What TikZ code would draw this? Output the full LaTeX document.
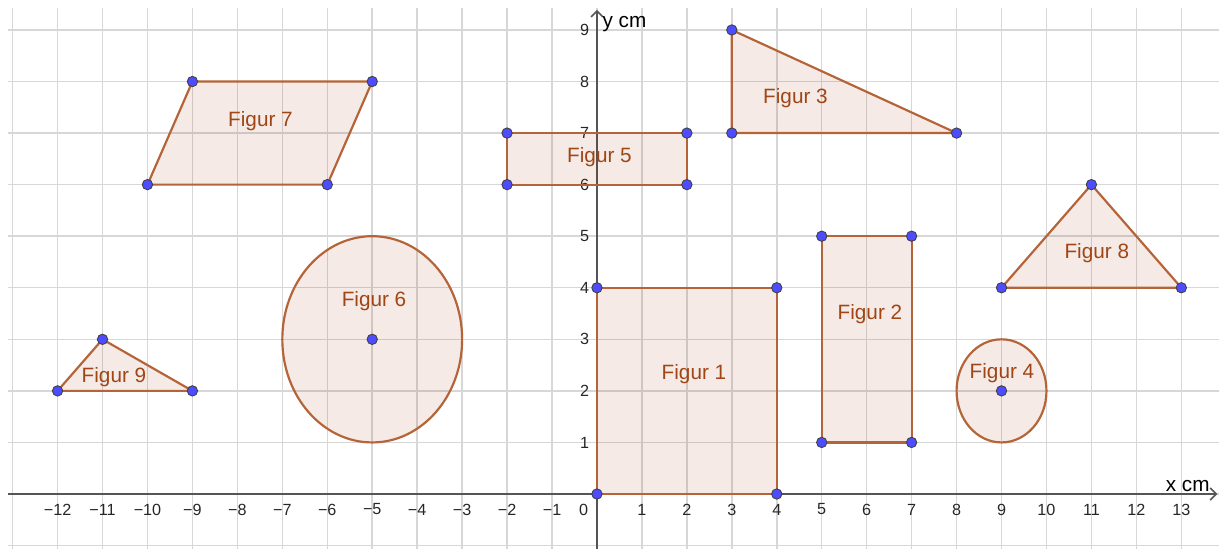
\documentclass[tikz,border=0pt]{standalone}
\usepackage{fontspec}
\setmainfont{Liberation Sans}
\usetikzlibrary{arrows.meta}
\definecolor{gridc}{RGB}{215,215,215}
\definecolor{axisc}{RGB}{85,85,85}
\definecolor{edgec}{RGB}{180,100,56}
\definecolor{fillc}{RGB}{153,51,0}
\definecolor{labc}{RGB}{160,70,22}
\definecolor{ptc}{RGB}{77,77,255}
\begin{document}
\begin{tikzpicture}[x=0.4495cm,y=0.5156cm,
  figshape/.style={draw=edgec, line width=0.62pt, fill=fillc, fill opacity=0.1, line join=round},
  pt/.style={circle, fill=ptc, draw=black!75, line width=0.25pt, inner sep=0pt, minimum size=2.95pt},
  lab/.style={text=labc, font=\fontsize{5.9}{7}\selectfont, inner sep=0pt, anchor=base},
  tickl/.style={text=black!85, font=\fontsize{4.6}{5.5}\selectfont, inner sep=0pt},
  axlab/.style={text=black, font=\fontsize{5.9}{7}\selectfont, inner sep=0pt, anchor=base west},
  axisline/.style={draw=axisc, line width=0.45pt, -{Straight Barb[length=1.7pt,width=3.4pt]}}]
\useasboundingbox (-13.281,-1.0667) rectangle (13.838,9.581);
% grid
\foreach \i in {-13,...,13} \draw[gridc, line width=0.42pt] (\i,-1.0667) -- (\i,9.43);
\foreach \j in {-1,...,9} \draw[gridc, line width=0.42pt] (-13.1,\j) -- (13.838,\j);
% axes
\coordinate (xs) at (-13.1,0);
\coordinate (xe) at (13.8,0);
\coordinate (ys) at (0,-1.0667);
\coordinate (ye) at (0,9.39);
\draw[axisline] (xs) -- (xe);
\draw[axisline] (ys) -- (ye);
% tick labels
\foreach \i in {1,...,12} \node[tickl] (xm\i) at (-\i,-0.30) {−\i};
\foreach \i in {1,...,13} \node[tickl] (xp\i) at (\i,-0.30) {\i};
\foreach \i in {1,...,9} \node[tickl, anchor=east] (yp\i) at (-0.16,\i) {\i};
\node[tickl, anchor=east] (y0) at (-0.18,-0.30) {0};
\node[axlab] (xlab) at (12.64,0.04) {x cm};
\node[axlab] (ylab) at (0.11,9.04) {y cm};
% vertices
\coordinate (A1) at (0,0); \coordinate (B1) at (4,0); \coordinate (C1) at (4,4); \coordinate (D1) at (0,4);
\coordinate (A2) at (5,1); \coordinate (B2) at (7,1); \coordinate (C2) at (7,5); \coordinate (D2) at (5,5);
\coordinate (A3) at (3,9); \coordinate (B3) at (3,7); \coordinate (C3) at (8,7);
\coordinate (M4) at (9,2);
\coordinate (A5) at (-2,6); \coordinate (B5) at (2,6); \coordinate (C5) at (2,7); \coordinate (D5) at (-2,7);
\coordinate (M6) at (-5,3);
\coordinate (A7) at (-10,6); \coordinate (B7) at (-6,6); \coordinate (C7) at (-5,8); \coordinate (D7) at (-9,8);
\coordinate (A8) at (9,4); \coordinate (B8) at (13,4); \coordinate (C8) at (11,6);
\coordinate (A9) at (-12,2); \coordinate (B9) at (-9,2); \coordinate (C9) at (-11,3);
% shapes
\draw[figshape] (A1) -- (B1) -- (C1) -- (D1) -- cycle;
\draw[figshape] (A2) -- (B2) -- (C2) -- (D2) -- cycle;
\draw[figshape] (A3) -- (B3) -- (C3) -- cycle;
\draw[figshape] (M4) ellipse [x radius=0.4495cm, y radius=0.5156cm];
\draw[figshape] (A5) -- (B5) -- (C5) -- (D5) -- cycle;
\draw[figshape] (M6) ellipse [x radius=0.899cm, y radius=1.0312cm];
\draw[figshape] (A7) -- (B7) -- (C7) -- (D7) -- cycle;
\draw[figshape] (A8) -- (B8) -- (C8) -- cycle;
\draw[figshape] (A9) -- (B9) -- (C9) -- cycle;
% labels
\node[lab] (L1) at (2.158,2.230) {Figur 1};
\node[lab] (L2) at (6.073,3.375) {Figur 2};
\node[lab] (L3) at (4.416,7.58) {Figur 3};
\node[lab] (L4) at (9.01,2.24) {Figur 4};
\node[lab] (L5) at (0.056,6.426) {Figur 5};
\node[lab] (L6) at (-4.96,3.646) {Figur 6};
\node[lab] (L7) at (-7.486,7.137) {Figur 7};
\node[lab] (L8) at (11.12,4.577) {Figur 8};
\node[lab] (L9) at (-10.745,2.153) {Figur 9};
% points
\foreach \p in {A1,B1,C1,D1,A2,B2,C2,D2,A3,B3,C3,M4,A5,B5,C5,D5,M6,A7,B7,C7,D7,A8,B8,C8,A9,B9,C9}
  \node[pt] (P\p) at (\p) {};
\end{tikzpicture}
\end{document}
